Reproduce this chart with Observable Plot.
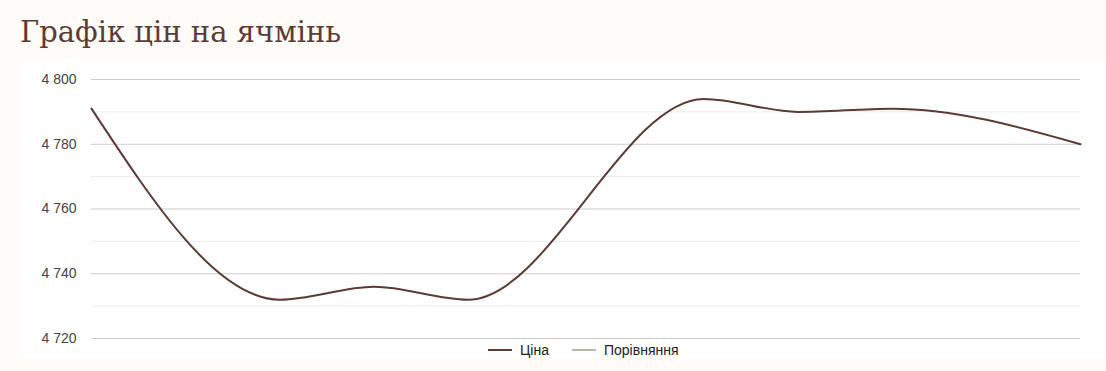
<!DOCTYPE html>
<html>
<head>
<meta charset="utf-8">
<script src="https://cdn.jsdelivr.net/npm/d3@7"></script>
<script src="https://cdn.jsdelivr.net/npm/@observablehq/plot@0.6"></script>
<style>
  html, body { margin: 0; padding: 0; background: #fffbf8; }
  body { width: 1106px; height: 371px; overflow: hidden; position: relative; }
  .title { height: 59px; box-sizing: border-box; padding-left: 20px; padding-top: 13px;
    font-family: "DejaVu Serif", serif; font-size: 29px; color: #5b3b33; line-height: 38px; }
  .panel { position: absolute; left: 20px; top: 59px; width: 1086px; height: 299px; background: #fff; }
  .panel svg { display: block; overflow: visible; }
  .legend { height: 17px; display: flex; justify-content: flex-start; align-items: center;
    font-family: "Liberation Sans", Arial, sans-serif; font-size: 14px; color: #222; padding-left: 468px; }
  .legend .item { display: flex; align-items: center; margin-right: 23px; }
  .legend .sw { width: 24px; height: 2px; margin-right: 8px; }
</style>
</head>
<body>
<div class="title">Графік цін на ячмінь</div>
<div class="panel" id="panel"></div>
<script>
const days = [0, 4, 6, 8, 13, 15, 17, 21];
const price = [4791, 4732, 4736, 4732, 4794, 4790, 4791, 4780];
const compare = [];
const seriesNames = ["Ціна", "Порівняння"];
const seriesColors = ["#5b3b33", "#b3b89f"];
const majorTicks = [4720, 4740, 4760, 4780, 4800];
const minorTicks = [4730, 4750, 4770, 4790];

const data = days.map((d, i) => ({ d, v: price[i] }));
const fmt = v => d3.format(",")(v).replace(/,/g, " ");

const chart = Plot.plot({
  width: 1086,
  height: 282,
  marginLeft: 71,
  marginRight: 26,
  marginTop: 20,
  marginBottom: 3,
  style: { fontFamily: "'Liberation Sans', Arial, sans-serif", fontSize: "14px", color: "#444", background: "transparent", overflow: "visible" },
  x: { domain: [days[0], days[days.length - 1]], axis: null },
  y: { domain: [4720, 4800] },
  marks: [
    Plot.gridY(minorTicks, { stroke: "#ebebeb", strokeOpacity: 1 }),
    Plot.gridY(majorTicks, { stroke: "#cccccc", strokeOpacity: 1 }),
    Plot.axisY(majorTicks, { tickSize: 0, tickPadding: 15, tickFormat: fmt, label: null, fill: "#444" }),
    Plot.line(data, { x: "d", y: "v", stroke: seriesColors[0], strokeWidth: 2, curve: "monotone-x" })
  ]
});
const panel = document.getElementById("panel");
panel.appendChild(chart);

const legend = document.createElement("div");
legend.className = "legend";
seriesNames.forEach((n, i) => {
  const it = document.createElement("div");
  it.className = "item";
  it.innerHTML = `<span class="sw" style="background:${seriesColors[i]}"></span><span>${n}</span>`;
  legend.appendChild(it);
});
panel.appendChild(legend);
</script>
</body>
</html>
